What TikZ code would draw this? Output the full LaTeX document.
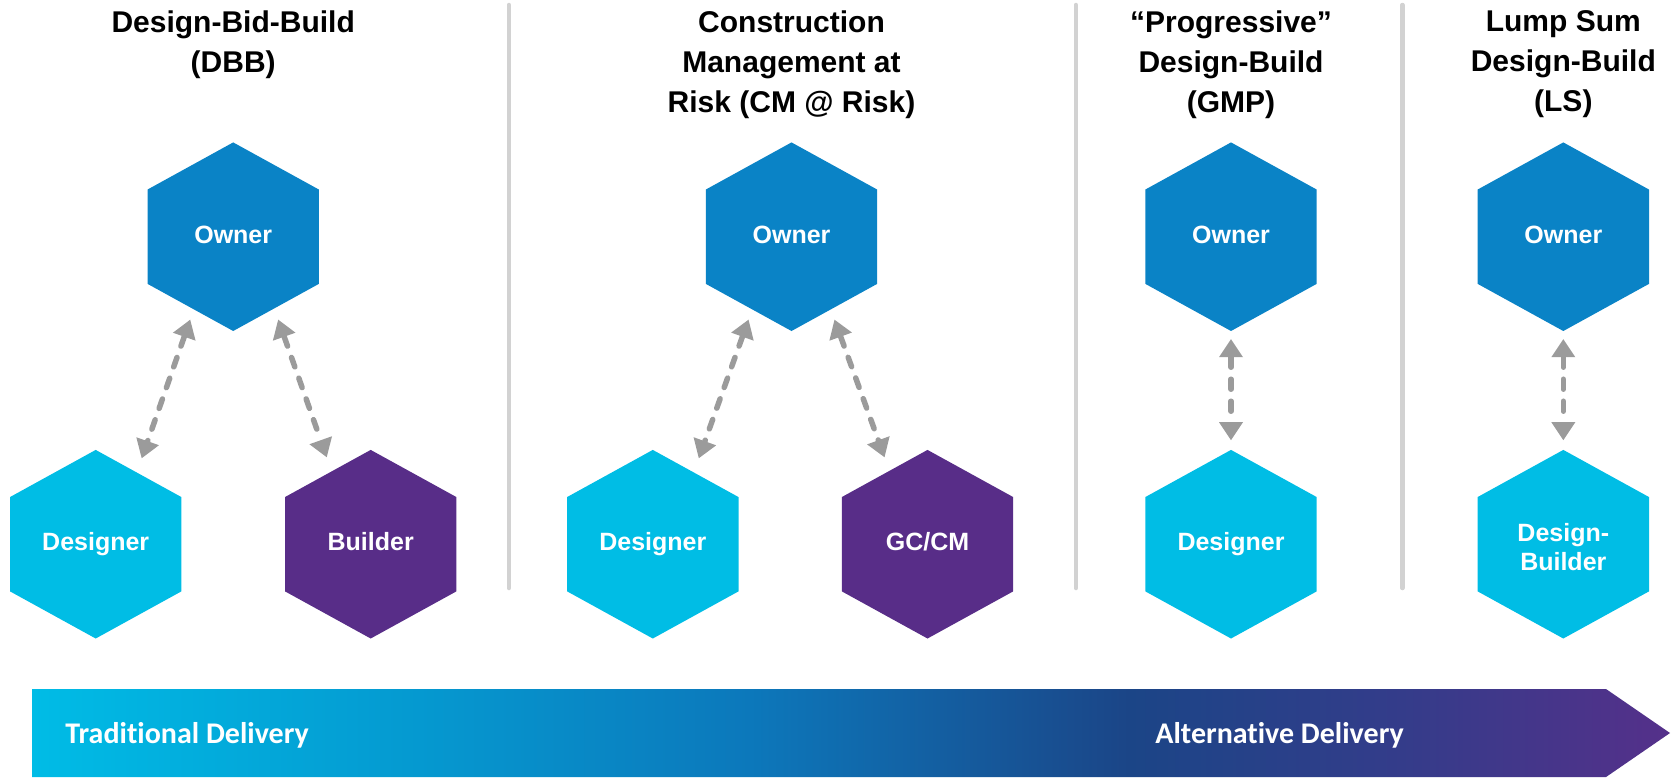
\documentclass[tikz,border=0pt]{standalone}
\usepackage{fontspec}
\setmainfont{Liberation Sans}
\newfontfamily\bandfont[Ligatures=NoCommon]{Carlito}
\usetikzlibrary{arrows.meta,calc}
\definecolor{ownerblue}{HTML}{0A83C6}
\definecolor{designcyan}{HTML}{00BDE5}
\definecolor{builderpurple}{HTML}{582D88}
\definecolor{arrowgray}{HTML}{9B9B9B}
\definecolor{dividergray}{HTML}{D2D2D2}
\definecolor{bandA}{HTML}{00BCE6}
\definecolor{bandB}{HTML}{0599D0}
\definecolor{bandC}{HTML}{0C78BB}
\definecolor{bandD}{HTML}{1B4587}
\definecolor{bandE}{HTML}{343C8A}
\definecolor{bandF}{HTML}{55308A}
\pgfdeclarehorizontalshading{bandshade}{100bp}{color(0bp)=(bandA); color(25bp)=(bandA); color(36.8bp)=(bandB); color(46.9bp)=(bandC); color(58.5bp)=(bandD); color(66.8bp)=(bandE); color(75bp)=(bandF); color(100bp)=(bandF)}
\newcommand\hexshape[3]{\fill[#1] (#2,#3) +(0,-94.3) -- +(85.7,-47.15) -- +(85.7,47.15) -- +(0,94.3) -- +(-85.7,47.15) -- +(-85.7,-47.15) -- cycle;}
\begin{document}
\begin{tikzpicture}[x=0.5pt,y=-0.5pt,
  divider/.style={draw=dividergray, line width=2.25pt, line cap=round},
  titletext/.style={anchor=north, inner sep=0pt, align=center, text=black,
    font=\fontsize{15}{20}\selectfont\bfseries},
  hexlabel/.style={inner sep=0pt, align=center, text=white,
    font=\fontsize{12.5}{14.5}\selectfont\bfseries, text height=9pt, text depth=2.4pt},
  hexlabeltwo/.style={inner sep=0pt, align=center, text=white,
    font=\fontsize{12.5}{14.5}\selectfont\bfseries},
  biarrow/.style={draw=arrowgray, line width=2.75pt, dash pattern=on 5pt off 6pt,
    line cap=round,
    {Triangle[width=12pt,length=9pt,line width=0pt]}-{Triangle[width=12pt,length=9pt,line width=0pt]}},
  bandtext/.style={anchor=base west, inner sep=0pt, text=white,
    font=\bandfont\fontsize{15}{18}\selectfont\bfseries}]
\useasboundingbox (0,0) rectangle (1673,778);

% dividers
\draw[divider] (508.9,5) -- (508.9,588);
\draw[divider] (1075.8,5) -- (1075.8,588);
\draw[divider] (1402.4,5) -- (1402.4,588);

% titles
\node[titletext] (t1) at (233.2,10) {Design-Bid-Build\\(DBB)};
\node[titletext] (t2) at (791.5,10) {Construction\\Management at\\Risk (CM @ Risk)};
\node[titletext] (t3) at (1231,10) {“Progressive”\\Design-Build\\(GMP)};
\node[titletext] (t4) at (1563.3,10) {Lump Sum\\Design-Build\\(LS)};

% hexagons
\hexshape{ownerblue}{233.2}{236.7}
\hexshape{designcyan}{95.7}{544.2}
\hexshape{builderpurple}{370.7}{544.2}
\hexshape{ownerblue}{791.5}{236.7}
\hexshape{designcyan}{652.8}{544.2}
\hexshape{builderpurple}{927.5}{544.2}
\hexshape{ownerblue}{1231}{236.7}
\hexshape{designcyan}{1231}{544.2}
\hexshape{ownerblue}{1563.3}{236.7}
\hexshape{designcyan}{1563.3}{544.2}

\node[hexlabel] (own1) at (233.2,236.7) {Owner};
\node[hexlabel] (des1) at (95.7,544.2) {Designer};
\node[hexlabel] (bld1) at (370.7,544.2) {Builder};
\node[hexlabel] (own2) at (791.5,236.7) {Owner};
\node[hexlabel] (des2) at (652.8,544.2) {Designer};
\node[hexlabel] (gc2) at (927.5,544.2) {GC/CM};
\node[hexlabel] (own3) at (1231,236.7) {Owner};
\node[hexlabel] (des3) at (1231,544.2) {Designer};
\node[hexlabel] (own4) at (1563.3,236.7) {Owner};
\node[hexlabeltwo] (db4) at (1563.3,544.2) {\rule{0pt}{12pt}Design-\\Builder};

% connectors
\draw[biarrow] ($(own1)+(-43,83)$) -- ($(des1)+(46,-86)$);
\draw[biarrow] ($(own1)+(45,83)$) -- ($(bld1)+(-44,-87)$);
\draw[biarrow] ($(own2)+(-43,83)$) -- ($(des2)+(46,-86)$);
\draw[biarrow] ($(own2)+(43,83)$) -- ($(gc2)+(-43,-87)$);
\draw[biarrow] ($(own3)+(0,102.5)$) -- ($(des3)+(0,-104)$);
\draw[biarrow] ($(own4)+(0,102.5)$) -- ($(db4)+(0,-104)$);

% delivery band
\shade[shading=bandshade] (32,689) -- (1606,689) -- (1670,733) -- (1606,777) -- (32,777) -- cycle;
\node[bandtext] (trad) at (65,743.5) {Traditional Delivery};
\node[bandtext] (alt) at (1155,743.5) {Alternative Delivery};
\end{tikzpicture}
\end{document}
